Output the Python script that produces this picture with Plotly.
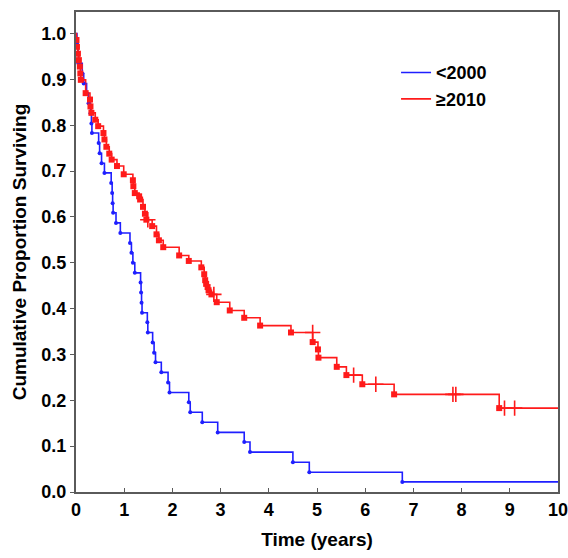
import plotly.graph_objects as go

# ---- data ----
blue_name = "<2000"
blue_t = [0.02, 0.04, 0.05, 0.13, 0.16, 0.22, 0.26, 0.30, 0.32, 0.33, 0.47, 0.49, 0.53, 0.59,
          0.73, 0.75, 0.76, 0.77, 0.83, 0.92, 1.12, 1.15, 1.18, 1.22, 1.34, 1.35, 1.36, 1.37,
          1.48, 1.49, 1.59, 1.62, 1.65, 1.77, 1.91, 1.94, 2.34, 2.37, 2.62, 2.94, 3.49, 3.61,
          4.50, 4.84, 6.77]
blue_s = [0.978, 0.957, 0.935, 0.913, 0.891, 0.870, 0.848, 0.826, 0.804, 0.783, 0.761, 0.739,
          0.717, 0.696, 0.674, 0.652, 0.630, 0.609, 0.587, 0.565, 0.543, 0.522, 0.500, 0.478,
          0.457, 0.435, 0.413, 0.391, 0.370, 0.348, 0.326, 0.304, 0.283, 0.261, 0.239, 0.217,
          0.196, 0.174, 0.152, 0.130, 0.109, 0.087, 0.065, 0.043, 0.022]

red_name = "≥2010"
red_t = [0.01, 0.02, 0.04, 0.06, 0.08, 0.09, 0.10, 0.20, 0.29, 0.30, 0.32, 0.40, 0.46, 0.57,
         0.59, 0.63, 0.69, 0.74, 0.85, 0.99, 1.18, 1.19, 1.22, 1.31, 1.33, 1.39, 1.43, 1.46,
         1.58, 1.67, 1.72, 1.81, 2.14, 2.34, 2.60, 2.66, 2.68, 2.70, 2.73, 2.75, 2.81, 2.92,
         3.19, 3.49, 3.82, 4.46, 4.91, 5.02, 5.03, 5.41, 5.61, 5.94, 6.60, 8.78]
red_s = [0.986, 0.971, 0.956, 0.942, 0.928, 0.913, 0.899, 0.870, 0.856, 0.841, 0.827, 0.812,
         0.798, 0.783, 0.769, 0.753, 0.738, 0.725, 0.711, 0.693, 0.680, 0.667, 0.652, 0.645,
         0.638, 0.622, 0.607, 0.594, 0.580, 0.562, 0.549, 0.534, 0.516, 0.504, 0.490, 0.475,
         0.462, 0.454, 0.447, 0.440, 0.431, 0.414, 0.396, 0.380, 0.363, 0.348, 0.327, 0.311,
         0.293, 0.273, 0.255, 0.235, 0.213, 0.183]
red_cens_t = [1.49, 2.86, 4.91, 5.76, 6.22, 7.82, 7.88, 8.89, 9.10]
red_cens_s = [0.594, 0.431, 0.348, 0.255, 0.235, 0.213, 0.213, 0.183, 0.183]

x_ticks = list(range(0, 11))
y_ticks = [0.0, 0.1, 0.2, 0.3, 0.4, 0.5, 0.6, 0.7, 0.8, 0.9, 1.0]
x_title = "Time (years)"
y_title = "Cumulative Proportion Surviving"
t_max = 10

BLUE = "#1f1fff"
RED = "#ff1a1a"
FONT = "Liberation Sans, Arial, sans-serif"

fig = go.Figure()

# step curves
fig.add_trace(go.Scatter(x=[0] + blue_t + [t_max], y=[1.0] + blue_s + [blue_s[-1]],
                         mode="lines", line=dict(color=BLUE, width=1.6, shape="hv"),
                         name=blue_name))
fig.add_trace(go.Scatter(x=[0] + red_t + [t_max], y=[1.0] + red_s + [red_s[-1]],
                         mode="lines", line=dict(color=RED, width=1.6, shape="hv"),
                         name=red_name))
# event markers
fig.add_trace(go.Scatter(x=blue_t, y=blue_s, mode="markers", showlegend=False,
                         marker=dict(symbol="circle", size=4, color=BLUE)))
fig.add_trace(go.Scatter(x=red_t, y=red_s, mode="markers", showlegend=False,
                         marker=dict(symbol="square", size=6, color=RED)))
# censored marks
fig.add_trace(go.Scatter(x=red_cens_t, y=red_cens_s, mode="markers", showlegend=False,
                         marker=dict(symbol="cross-thin-open", size=11, color=RED,
                                     line=dict(color=RED, width=1.6))))

axis_col = "#5a5a5a"
fig.update_layout(
    width=568, height=558,
    margin=dict(l=76, r=10, t=12, b=66),
    paper_bgcolor="white", plot_bgcolor="white",
    font=dict(family=FONT, size=18, color="black", weight="bold"),
    showlegend=True,
    legend=dict(x=0.664, y=0.912, xanchor="left", yanchor="top",
                bgcolor="rgba(0,0,0,0)", font=dict(size=18, weight="bold"),
                tracegroupgap=0),
    xaxis=dict(range=[0, t_max], tickvals=x_ticks, ticks="inside", ticklen=4,
               tickcolor=axis_col, showline=True, linecolor=axis_col, linewidth=2,
               mirror=True, showgrid=False, zeroline=False, automargin=False,
               ticklabeloverflow="allow",
               tickfont=dict(size=18, weight="bold"),
               title=dict(text=x_title, font=dict(size=19, weight="bold"), standoff=14)),
    yaxis=dict(range=[0, 1.047], tickvals=y_ticks, tickformat=".1f", ticks="outside",
               ticklen=4, tickcolor=axis_col, showline=True, linecolor=axis_col, linewidth=2,
               mirror=True, showgrid=False, zeroline=False, automargin=False,
               ticklabeloverflow="allow",
               tickfont=dict(size=18, weight="bold"),
               title=dict(text=y_title, font=dict(size=19, weight="bold"), standoff=10)),
    yaxis2=dict(range=[0, 1.047], tickvals=y_ticks, overlaying="y", side="right",
                ticks="inside", ticklen=4, tickcolor=axis_col, showticklabels=False,
                showline=False, showgrid=False, zeroline=False, automargin=False),
)

fig.write_html("out.html", config={"displayModeBar": False},
               post_script="document.body.style.margin='0';document.body.style.overflow='hidden';")
